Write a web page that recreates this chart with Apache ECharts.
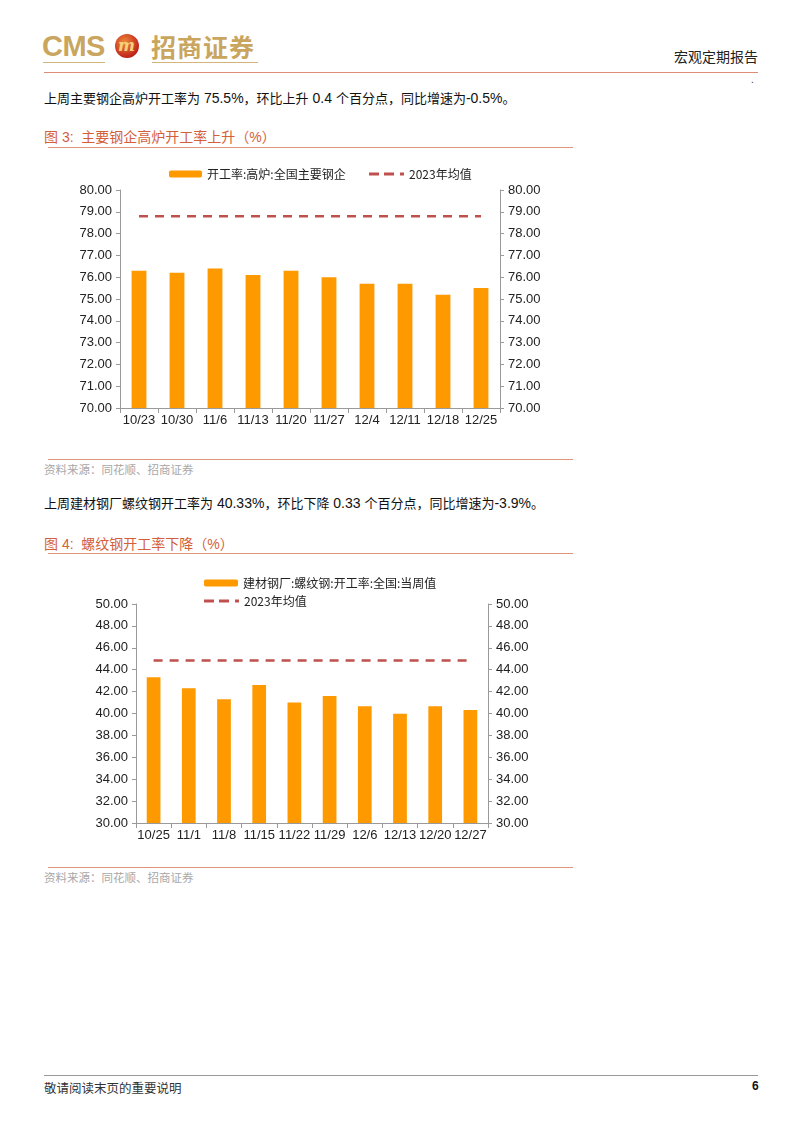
<!DOCTYPE html>
<html>
<head>
<meta charset="utf-8">
<script src="https://cdn.jsdelivr.net/npm/echarts@6/dist/echarts.min.js"></script>
<style>
  html, body { margin: 0; padding: 0; background: #fff; }
  body { width: 802px; height: 1133px; position: relative; overflow: hidden;
         font-family: "Liberation Sans", Arial, "Noto Sans CJK SC", sans-serif; color: #111; }
  .abs { position: absolute; white-space: nowrap; }
  .hline { position: absolute; height: 0; }
  .para { font-size: 13px; line-height: 16px; }
  .para .n { font-size: 14px; }
  .fig { font-size: 14px; color: #d4603a; line-height: 18px; }
  .src { font-size: 11.5px; color: #a8a8a8; }
  .chart { position: absolute; }
</style>
</head>
<body>
<!-- 页眉 -->
<div class="abs" style="left:42px;top:30px;font:bold 29px 'Liberation Sans',Arial;color:#c9a55e;letter-spacing:-0.5px;">CMS</div>
<div class="hline" style="left:43px;top:62px;width:62px;border-top:1.5px solid #d2b57a;"></div>
<div class="abs" style="left:115px;top:34px;width:24px;height:24px;border-radius:50%;background:radial-gradient(circle at 40% 35%,#f08a3a,#c0261c 70%,#8e1410);"></div>
<div class="abs" style="left:118px;top:36px;font:bold italic 16px 'DejaVu Serif';color:#f5d27a;">m</div>
<div class="abs" style="left:151px;top:31px;font:bold 25px 'Noto Sans CJK SC';color:#c9a55e;line-height:30px;letter-spacing:1px;">招商证券</div>
<div class="hline" style="left:152px;top:62px;width:106px;border-top:1.5px solid #d2b57a;"></div>
<div class="abs" style="left:674px;top:46px;font-size:14px;font-family:'Noto Sans CJK SC';color:#222;">宏观定期报告</div>
<div class="hline" style="left:44px;top:72px;width:714px;border-top:1px solid #e08a78;"></div>
<div class="abs" style="left:751px;top:74px;font-size:10px;color:#333;">.</div>

<!-- 段落 1 -->
<div class="abs para" style="left:44px;top:90px;">上周主要钢企高炉开工率为<span class="n"> 75.5%</span>，环比上升<span class="n"> 0.4 </span>个百分点，同比增速为<span class="n">-0.5%</span>。</div>
<div class="abs fig" style="left:44px;top:128px;">图 3:&nbsp; 主要钢企高炉开工率上升（%）</div>
<div class="hline" style="left:48px;top:147px;width:525px;border-top:1.5px solid #e0957a;"></div>
<div id="c1" class="chart" style="left:0;top:150px;width:620px;height:300px;"></div>
<div class="hline" style="left:48px;top:459px;width:525px;border-top:1.5px solid #e0957a;"></div>
<div class="abs src" style="left:44px;top:461px;">资料来源：同花顺、招商证券</div>

<!-- 段落 2 -->
<div class="abs para" style="left:44px;top:495px;">上周建材钢厂螺纹钢开工率为<span class="n"> 40.33%</span>，环比下降<span class="n"> 0.33 </span>个百分点，同比增速为<span class="n">-3.9%</span>。</div>
<div class="abs fig" style="left:44px;top:535px;">图 4:&nbsp; 螺纹钢开工率下降（%）</div>
<div class="hline" style="left:48px;top:553px;width:525px;border-top:1.5px solid #e0957a;"></div>
<div id="c2" class="chart" style="left:0;top:560px;width:620px;height:300px;"></div>
<div class="hline" style="left:48px;top:867px;width:525px;border-top:1.5px solid #e0957a;"></div>
<div class="abs src" style="left:44px;top:869px;">资料来源：同花顺、招商证券</div>

<!-- 页脚 -->
<div class="hline" style="left:44px;top:1075px;width:714px;border-top:1px solid #999;"></div>
<div class="abs" style="left:44px;top:1078px;font-size:12.5px;color:#333;">敬请阅读末页的重要说明</div>
<div class="abs" style="left:752px;top:1079px;font:bold 12px 'Liberation Sans';color:#111;">6</div>

<script>
  // 图3 数据：主要钢企高炉开工率
  const weeks1 = ['10/23', '10/30', '11/6', '11/13', '11/20', '11/27', '12/4', '12/11', '12/18', '12/25']
  const blastRate = [76.3, 76.2, 76.4, 76.1, 76.3, 76.0, 75.7, 75.7, 75.2, 75.5]
  const blastAvg2023 = 78.8

  // 图4 数据：螺纹钢开工率
  const weeks2 = ['10/25', '11/1', '11/8', '11/15', '11/22', '11/29', '12/6', '12/13', '12/20', '12/27']
  const rebarRate = [43.3, 42.3, 41.3, 42.6, 41.0, 41.6, 40.66, 39.98, 40.66, 40.33]
  const rebarAvg2023 = 44.85

  const axisGrey = '#9a9a9a'
  const barColor = '#ff9900'
  const avgColor = '#c0504d'
  // 图例里的虚线：两段短划加一个点
  const dashIcon = 'path://M0,0h10v3h-10zM15,0h10v3h-10zM31,0h4v3h-4z'

  function yAxisOf (min, max, interval, position) {
    return {
      type: 'value',
      position: position,
      min: min,
      max: max,
      interval: interval,
      axisLine: { show: true, lineStyle: { color: axisGrey } },
      axisTick: { show: true, length: 4, lineStyle: { color: axisGrey } },
      splitLine: { show: false },
      axisLabel: {
        margin: 8,
        color: '#222',
        fontSize: 13,
        fontFamily: 'Liberation Sans',
        formatter: function (v) { return v.toFixed(2) }
      }
    }
  }

  function buildOption (cats, values, avg, barName, min, max, interval, grid, legends) {
    return {
      animation: false,
      grid: grid,
      legend: legends,
      xAxis: {
        type: 'category',
        data: cats,
        boundaryGap: true,
        axisLine: { show: true, lineStyle: { color: axisGrey } },
        axisTick: { show: true, length: 5, interval: 0, lineStyle: { color: axisGrey } },
        axisLabel: { interval: 0, margin: 6, color: '#222', fontSize: 13, fontFamily: 'Liberation Sans' }
      },
      yAxis: [
        yAxisOf(min, max, interval, 'left'),
        yAxisOf(min, max, interval, 'right')
      ],
      series: [
        {
          name: barName,
          type: 'bar',
          data: values,
          barWidth: '39%',
          itemStyle: { color: barColor }
        },
        {
          name: '2023年均值',
          type: 'line',
          data: cats.map(function () { return avg }),
          symbol: 'none',
          lineStyle: { color: avgColor, width: 2.5, type: [9, 7] },
          itemStyle: { color: avgColor }
        }
      ]
    }
  }

  const legendText = { color: '#222', fontSize: 12, fontFamily: 'Noto Sans CJK SC' }

  const chart1 = echarts.init(document.getElementById('c1'))
  chart1.setOption(buildOption(weeks1, blastRate, blastAvg2023, '开工率:高炉:全国主要钢企', 70, 80, 1,
    { left: 120, top: 40, width: 380, height: 218 },
    [
      { data: ['开工率:高炉:全国主要钢企'], left: 164, top: 13, itemWidth: 33, itemHeight: 7, itemGap: 4, textStyle: legendText },
      { data: [{ name: '2023年均值', icon: dashIcon }], left: 364, top: 13, itemWidth: 35, itemHeight: 3, textStyle: legendText }
    ]))

  const chart2 = echarts.init(document.getElementById('c2'))
  chart2.setOption(buildOption(weeks2, rebarRate, rebarAvg2023, '建材钢厂:螺纹钢:开工率:全国:当周值', 30, 50, 2,
    { left: 136, top: 44, width: 352, height: 219 },
    [
      { data: ['建材钢厂:螺纹钢:开工率:全国:当周值'], left: 199, top: 12, itemWidth: 34, itemHeight: 7, textStyle: legendText },
      { data: [{ name: '2023年均值', icon: dashIcon }], left: 199, top: 30, itemWidth: 35, itemHeight: 3, textStyle: legendText }
    ]))
</script>
</body>
</html>
